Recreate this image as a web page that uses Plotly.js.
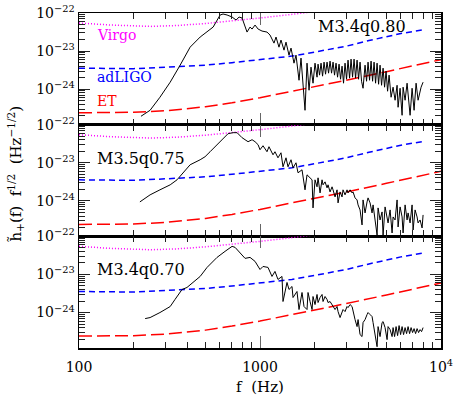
<!DOCTYPE html>
<html>
<head>
<meta charset="utf-8">
<script src="https://cdn.plot.ly/plotly-3.0.1.min.js"></script>
<style>html,body{margin:0;padding:0;background:#fff;}#chart{width:454px;height:396px;}</style>
</head>
<body>
<div id="chart"></div>
<script>
// ---- Detector noise curves (f in Hz, h in Hz^-1/2) ----
const virgoF = [100,150,250,350,500,700,1000,1400,1800,2500,4000];
const virgoH = [5.46e-23,4.83e-23,4.45e-23,4.7e-23,5.3e-23,6.16e-23,7.39e-23,8.86e-23,1.0e-22,1.24e-22,1.8e-22];

const ligoF = [100,150,200,300,400,500,700,1000,1500,2000,3000,4000,5000,6000,8100];
const ligoH = [3.57e-24,3.46e-24,3.46e-24,3.79e-24,4.03e-24,4.28e-24,4.98e-24,5.98e-24,7.39e-24,9.41e-24,1.35e-23,1.89e-23,2.41e-23,2.89e-23,3.68e-23];

const etF = [100,150,200,300,400,500,700,1000,1500,2000,3000,5000,7000,10000];
const etH = [2.41e-25,2.41e-25,2.48e-25,2.72e-25,3.07e-25,3.46e-25,4.41e-25,5.98e-25,8.86e-25,1.16e-24,1.72e-24,2.89e-24,4.03e-24,5.98e-24];

// ---- Signal spectra ----
const p1Label = "M3.4q0.80";
const p1F = [220,247,280,319,362,411,467,530,551,602,625,658,701,738,766,796,848,881,904,939,976,1026,1093,1136,1195,1226,1273,1306,1357,1392,1446,1484,1541,1581,1643,1685,1773,1819,1866,1914,1963,2014,2066,
 2093,2133,2174,2216,2259,2302,2347,2392,2438,2485,2533,2581,2631,2682,2734,2787,2840,2894,
 2950,3007,3065,3125,3185,3246,3309,3373,3438,3504,3571,3640,3710,
 3806,3879,3954,4030,4108,4188,4268,4350,4434,4520,4606,4695,4786,4878,4972,5068,5166,5299,
 5436,5576,5720,5793,5942,6095,6173,6332,6495,6748,6922,7100,7283,7471,7762,7962];
const p1H = [1.95e-25,2.80e-25,6.16e-25,1.53e-24,4.28e-24,1.27e-23,2.34e-23,3.57e-23,4.28e-23,8.86e-23,9.41e-23,8.86e-23,7.85e-23,6.54e-23,7.85e-23,7.39e-23,3.16e-23,4.28e-23,3.79e-23,4.83e-23,3.79e-23,3.36e-23,3.16e-23,2.64e-23,1.62e-23,2.34e-23,1.27e-23,1.95e-23,1.06e-23,1.72e-23,7.85e-24,1.20e-23,4.83e-24,7.85e-24,1.72e-24,6.54e-24,2.80e-25,4.83e-24,9.41e-25,3.79e-24,1.44e-24,4.83e-24,2.07e-24,
 4.55e-24,2.34e-24,4.83e-24,2.20e-24,5.14e-24,2.48e-24,5.14e-24,2.64e-24,5.46e-24,2.64e-24,5.14e-24,2.34e-24,4.83e-24,2.07e-24,4.55e-24,1.83e-24,4.03e-24,1.44e-24,
 4.83e-24,1.83e-24,5.80e-24,1.95e-24,6.16e-24,2.07e-24,6.16e-24,1.95e-24,5.80e-24,1.83e-24,5.14e-24,1.62e-24,1.06e-24,
 4.28e-24,1.62e-24,5.14e-24,1.72e-24,5.46e-24,1.62e-24,5.14e-24,1.44e-24,4.83e-24,1.35e-24,4.28e-24,1.27e-24,3.57e-24,1.13e-24,2.98e-24,8.86e-25,2.34e-24,6.16e-25,
 1.13e-24,5.14e-25,1.27e-24,3.36e-25,1.06e-24,2.07e-25,1.13e-24,5.14e-25,1.44e-24,2.07e-25,1.06e-24,2.80e-25,1.44e-24,5.14e-25,1.13e-24,1.53e-24];

const p2Label = "M3.5q0.75";
const p2F = [217,247,280,319,348,376,411,467,497,530,579,625,666,710,747,796,859,904,939,976,1000,1039,1093,1121,1180,1210,1257,1306,1340,1392,1428,1484,1522,1581,1622,1707,1773,1819,1890,
 1939,1963,2014,2066,2093,2147,2202,2230,2288,2347,2377,2438,2501,2533,2598,2665,2699,2769,2840,2876,2950,3026,3065,3145,3226,3267,3351,3438,3482,3571,3663,3710,3806,3904,3954,4056,4161,4214,4323,4434,4491,4606,4725,4786,4909,5036,5100,5232,5367,5436,5576,5720,5793,5942,6095,6173,6332,6495,6579,6748,6922,7011,7191,7376,7471,7664,7861,7962];
const p2H = [9.41e-25,1.44e-24,1.95e-24,2.64e-24,3.57e-24,5.46e-24,8.86e-24,1.20e-23,1.44e-23,1.95e-23,2.98e-23,4.55e-23,5.80e-23,6.16e-23,6.16e-23,4.55e-23,3.57e-23,4.03e-23,3.57e-23,2.98e-23,2.20e-23,2.80e-23,1.95e-23,2.64e-23,1.62e-23,1.95e-23,1.35e-23,1.83e-23,7.85e-24,1.35e-23,7.85e-24,1.20e-23,7.39e-24,1.00e-23,5.46e-24,6.54e-24,1.95e-24,4.83e-24,4.03e-24,
 3.57e-24,6.54e-25,3.57e-24,2.34e-24,4.03e-24,1.62e-24,3.57e-24,2.64e-24,3.16e-24,2.20e-24,
 2.64e-24,1.72e-24,2.34e-24,1.95e-24,1.27e-24,1.95e-24,8.86e-25,1.72e-24,1.27e-24,1.95e-24,
 1.44e-24,1.95e-24,1.62e-24,1.95e-24,1.62e-24,1.72e-24,1.20e-24,1.06e-24,7.85e-25,5.80e-25,
 2.34e-25,1.06e-24,4.83e-25,9.41e-25,1.20e-24,8.86e-25,4.83e-25,7.85e-25,3.16e-25,1.27e-25,
 6.54e-25,3.16e-25,5.14e-25,1.27e-25,6.95e-25,3.79e-25,2.64e-25,5.80e-25,1.44e-25,3.79e-25,
 3.16e-25,1.06e-24,2.07e-25,6.95e-25,3.79e-25,1.44e-25,7.85e-25,3.16e-25,4.83e-25,2.64e-25,
 7.85e-25,1.72e-25,5.80e-25,3.79e-25,2.64e-25,3.16e-25,1.95e-25,4.28e-25];

const p3Label = "M3.4q0.70";
const p3F = [232,247,280,319,339,371,395,427,467,510,579,641,701,728,776,827,881,939,1000,1039,1107,1165,1210,1257,1323,1340,1410,1446,1503,1522,1601,1643,1707,1751,1819,
 1842,1890,1939,1963,2014,2066,2093,2147,2202,2230,2288,2347,2377,2438,2501,2533,2598,2665,2699,2769,2840,2876,2950,3026,3065,3145,3226,3267,3351,3438,3482,3571,3663,3710,3806,3904,3954,4056,4161,4214,4323,4434,4491,4606,4725,4786,4909,5036,5100,5232,5367,5436,
 5541,5647,5756,5867,5980,6095,6212,6332,6454,6579,6705,6835,6966,7100,7237,7376,7519,7664,7811,7962];
const p3H = [6.95e-25,7.39e-25,1.00e-24,1.44e-24,2.20e-24,4.03e-24,4.55e-24,6.16e-24,8.86e-24,1.53e-23,2.80e-23,4.03e-23,5.46e-23,5.14e-23,3.79e-23,2.64e-23,2.80e-23,2.20e-23,1.35e-23,1.62e-23,1.53e-23,8.86e-24,1.20e-23,7.39e-24,8.86e-24,1.95e-24,6.16e-24,4.03e-24,4.83e-24,2.48e-24,3.57e-24,1.20e-24,3.36e-24,1.44e-24,1.20e-24,
 3.36e-24,1.95e-24,1.20e-24,2.64e-24,1.62e-24,2.98e-24,1.83e-24,2.48e-24,2.98e-24,1.95e-24,
 2.64e-24,2.20e-24,1.83e-24,1.95e-24,1.62e-24,1.44e-24,1.20e-24,1.44e-24,1.06e-24,7.39e-25,
 1.06e-24,1.20e-24,1.06e-24,1.44e-24,1.35e-24,1.62e-24,1.44e-24,1.06e-24,6.54e-25,4.28e-25,
 6.54e-25,2.64e-25,2.34e-25,5.46e-25,6.54e-25,8.86e-25,1.00e-24,8.86e-25,7.85e-25,5.46e-25,
 2.34e-25,1.27e-25,4.28e-25,2.34e-25,5.46e-25,5.80e-25,4.03e-25,1.95e-25,4.28e-25,3.57e-25,
 2.34e-25,4.03e-25,
 2.34e-25,4.28e-25,2.48e-25,4.55e-25,2.64e-25,4.28e-25,2.64e-25,4.03e-25,2.80e-25,4.28e-25,2.80e-25,4.03e-25,2.98e-25,3.79e-25,2.80e-25,3.79e-25,2.98e-25,3.57e-25,3.16e-25,4.03e-25];

// ---- Axis ticks ----
const xTickVals = [100, 1000, 10000];
const xTickText = ["100", "1000", "10<sup>4</sup>"];
const yTickVals = [1e-24, 1e-23, 1e-22];
const yTickText = ["10<sup>\u221224</sup>", "10<sup>\u221223</sup>", "10<sup>\u221222</sup>"];
const detectorNames = ["Virgo", "adLIGO", "ET"];

const xMinor = [];
[100, 1000].forEach(d => { for (let k = 2; k <= 9; k++) xMinor.push(k * d); });
const yMinor = [];
[1e-25, 1e-24, 1e-23].forEach(d => { for (let k = 2; k <= 9; k++) yMinor.push(k * d); });

const panels = [
  {F: p1F, H: p1H, label: p1Label},
  {F: p2F, H: p2H, label: p2Label},
  {F: p3F, H: p3H, label: p3Label}
];

const FONT = "DejaVu Serif, Liberation Serif, serif";
const traces = [];
const layout = {
  width: 454, height: 396,
  margin: {l: 79, r: 13, t: 13, b: 48},
  paper_bgcolor: "#fff", plot_bgcolor: "#fff",
  showlegend: false,
  font: {family: FONT, size: 14, color: "#000"},
  annotations: []
};

const domains = [[2/3, 1], [1/3, 2/3], [0, 1/3]];

panels.forEach((p, i) => {
  const xa = i === 0 ? "x" : "x" + (i + 1);
  const ya = i === 0 ? "y" : "y" + (i + 1);
  traces.push({x: virgoF, y: virgoH, xaxis: xa, yaxis: ya, mode: "lines", line: {color: "#ff00ff", width: 1.5, dash: "1px,2px"}, hoverinfo: "skip"});
  traces.push({x: ligoF, y: ligoH, xaxis: xa, yaxis: ya, mode: "lines", line: {color: "#0000ff", width: 1.5, dash: "6px,4px"}, hoverinfo: "skip"});
  traces.push({x: etF, y: etH, xaxis: xa, yaxis: ya, mode: "lines", line: {color: "#ff0000", width: 1.5, dash: "13px,5px"}, hoverinfo: "skip"});
  traces.push({x: p.F, y: p.H, xaxis: xa, yaxis: ya, mode: "lines", line: {color: "#000", width: 1}, hoverinfo: "skip"});

  const xname = i === 0 ? "xaxis" : "xaxis" + (i + 1);
  const yname = i === 0 ? "yaxis" : "yaxis" + (i + 1);
  layout[xname] = {
    type: "log", range: [2, 4], anchor: ya, domain: [0, 1],
    tickmode: "array", tickvals: xTickVals, ticktext: xTickText,
    showticklabels: i === 2, ticklabelstandoff: 6,
    ticks: "inside", ticklen: 12, tickwidth: 1, tickcolor: "#666",
    minor: {tickmode: "array", tickvals: xMinor, ticks: "inside", ticklen: 6, tickwidth: 1, tickcolor: "#222"},
    showline: true, linewidth: 1.5, linecolor: "#000", mirror: "ticks",
    showgrid: false, zeroline: false,
    tickfont: {family: FONT, size: 14, color: "#000"}
  };
  if (i === 2) {
    layout[xname].title = {text: "f  (Hz)", font: {family: FONT, size: 15, color: "#000"}, standoff: 9};
  }
  layout[yname] = {
    type: "log", range: [-24.93, -22], anchor: xa, domain: domains[i],
    tickmode: "array", tickvals: yTickVals, ticktext: yTickText,
    ticks: "inside", ticklen: 11, tickwidth: 1, tickcolor: "#222",
    minor: {tickmode: "array", tickvals: yMinor, ticks: "inside", ticklen: 6, tickwidth: 1, tickcolor: "#222"},
    showline: true, linewidth: 1.5, linecolor: "#000", mirror: "ticks",
    showgrid: false, zeroline: false,
    tickfont: {family: FONT, size: 14, color: "#000"}
  };

  if (i === 0) {
    layout.annotations.push({xref: "x domain", yref: "y domain", x: 0.655, y: 0.875, xanchor: "left", yanchor: "middle", text: p.label, showarrow: false, font: {family: FONT, size: 16, color: "#000"}});
  } else {
    layout.annotations.push({xref: xa + " domain", yref: ya + " domain", x: 0.045, y: 0.70, xanchor: "left", yanchor: "middle", text: p.label, showarrow: false, font: {family: FONT, size: 16, color: "#000"}});
  }
});

const detColors = ["#ff00ff", "#0000ff", "#ff0000"];
const detY = [0.80, 0.43, 0.215];
detectorNames.forEach((n, k) => {
  layout.annotations.push({xref: "x domain", yref: "y domain", x: 0.045, y: detY[k], xanchor: "left", yanchor: "middle", text: n, showarrow: false, font: {family: FONT, size: 14, color: detColors[k]}});
});

layout.annotations.push({
  xref: "paper", yref: "paper", x: -0.175, y: 0.52, xanchor: "center", yanchor: "middle",
  textangle: -90, showarrow: false,
  text: "h\u0303<sub>+</sub>(f)  f<sup>1/2</sup>  (Hz<sup>\u22121/2</sup>)",
  font: {family: FONT, size: 15, color: "#000"}
});

Plotly.newPlot("chart", traces, layout, {staticPlot: true, displayModeBar: false});
</script>
</body>
</html>
